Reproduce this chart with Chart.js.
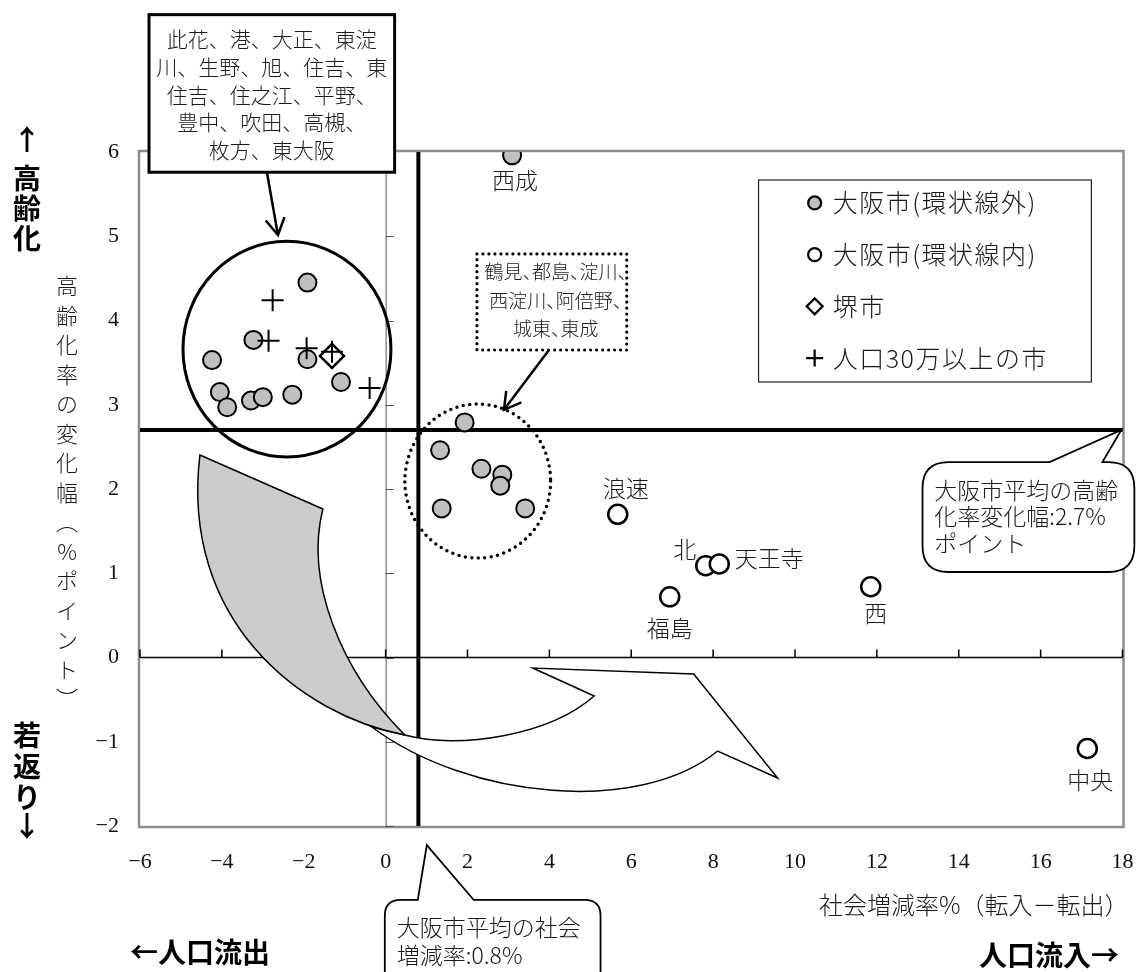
<!DOCTYPE html>
<html>
<head>
<meta charset="utf-8">
<script src="https://cdn.jsdelivr.net/npm/chart.js@4.4.1/dist/chart.umd.min.js"></script>
<style>
  html, body { margin: 0; padding: 0; background: #fff; }
  #wrap { width: 1137px; height: 972px; }
</style>
</head>
<body>
<div id="wrap"><canvas id="chart" width="1137" height="972"></canvas></div>
<script>
const JP = '"Noto Sans CJK JP", sans-serif';
const SERIF = '"Liberation Serif", "Noto Sans CJK JP", serif';
const INK = '#1a1a1a';
const jp = size => '300 ' + size + 'px ' + JP;

// axis ranges
const xMin = -6, xMax = 18, xStep = 2;
const yMin = -2, yMax = 6, yStep = 1;

// Osaka city wards outside the loop line (gray)
const outerX = [-1.91, -3.23, -1.91, -4.24, -1.09, -4.05, -3.87, -3.29, -3.00, -2.28,
                1.93, 1.33, 2.34, 2.85, 2.80, 1.37, 3.41, 3.09];
const outerY = [4.45, 3.77, 3.54, 3.53, 3.27, 3.15, 2.97, 3.05, 3.09, 3.12,
                2.79, 2.46, 2.24, 2.17, 2.04, 1.77, 1.77, 5.96];
const outerNames = ['', '', '', '', '', '', '', '', '', '',
                    '', '', '', '', '', '', '', '西成'];

// Osaka city wards inside the loop line (white)
const innerX = [5.67, 7.82, 8.15, 6.94, 11.85, 17.14];
const innerY = [1.70, 1.09, 1.11, 0.72, 0.84, -1.08];
const innerNames = ['浪速', '北', '天王寺', '福島', '西', '中央'];

// Sakai
const sakaiX = [-1.31];
const sakaiY = [3.58];

// cities with 300k+ population
const citiesX = [-2.76, -2.86, -1.93, -1.31, -0.39];
const citiesY = [4.24, 3.76, 3.67, 3.63, 3.20];

const seriesNames = ['大阪市(環状線外)', '大阪市(環状線内)', '堺市', '人口30万以上の市'];

// Osaka averages
const avgSocial = 0.8;
const avgAging = 2.7;

// where each point label sits relative to its marker (px)
const labelOffset = {
  '西成': [3, 25], '浪速': [8, -26], '北': [-21, -16], '天王寺': [50, -6],
  '福島': [0, 31], '西': [5, 27], '中央': [3, 32]
};

const styles = [
  { pointStyle: 'circle', radius: 9, bg: '#c0c0c0', bw: 2 },
  { pointStyle: 'circle', radius: 9.5, bg: '#ffffff', bw: 2.5 },
  { pointStyle: 'rectRot', radius: 12, bg: '#ffffff', bw: 2.5 },
  { pointStyle: 'cross', radius: 11, bg: '#000000', bw: 2 }
];

function pts(xs, ys) { return xs.map((x, i) => ({ x: x, y: ys[i] })); }
function fmt(v) { return String(v).replace('-', '\u2212'); }

function txt(ctx, s, x, y, font, align, color, spacing) {
  ctx.save();
  ctx.font = font;
  ctx.fillStyle = color || INK;
  ctx.textAlign = align || 'center';
  ctx.textBaseline = 'middle';
  if (spacing && 'letterSpacing' in ctx) ctx.letterSpacing = spacing;
  ctx.fillText(s, x, y);
  ctx.restore();
}

// centred text where the ideographic comma only takes half a cell
function txtProp(ctx, s, cx, y, size) {
  ctx.save();
  ctx.font = jp(size);
  ctx.fillStyle = INK;
  ctx.textAlign = 'left';
  ctx.textBaseline = 'middle';
  const adv = c => c === '、' ? size * 0.5 : ctx.measureText(c).width;
  let w = 0;
  for (const c of s) w += adv(c);
  let x = cx - w / 2;
  for (const c of s) { ctx.fillText(c, x, y); x += adv(c); }
  ctx.restore();
}

function arrowLine(ctx, x0, y0, x1, y1, len, ang) {
  const a = Math.atan2(y0 - y1, x0 - x1);
  ctx.beginPath();
  ctx.moveTo(x0, y0);
  ctx.lineTo(x1, y1);
  ctx.moveTo(x1 + len * Math.cos(a + ang), y1 + len * Math.sin(a + ang));
  ctx.lineTo(x1, y1);
  ctx.lineTo(x1 + len * Math.cos(a - ang), y1 + len * Math.sin(a - ang));
  ctx.stroke();
}

function callout(ctx, x1, y1, x2, y2, r, bA, bB, tx, ty) {
  ctx.beginPath();
  ctx.moveTo(x1 + r, y1);
  ctx.lineTo(bA, y1);
  ctx.lineTo(tx, ty);
  ctx.lineTo(bB, y1);
  ctx.lineTo(x2 - r, y1);
  ctx.quadraticCurveTo(x2, y1, x2, y1 + r);
  ctx.lineTo(x2, y2 - r);
  ctx.quadraticCurveTo(x2, y2, x2 - r, y2);
  ctx.lineTo(x1 + r, y2);
  ctx.quadraticCurveTo(x1, y2, x1, y2 - r);
  ctx.lineTo(x1, y1 + r);
  ctx.quadraticCurveTo(x1, y1, x1 + r, y1);
  ctx.closePath();
  ctx.fillStyle = '#fff';
  ctx.fill();
  ctx.stroke();
}

const decor = {
  id: 'decor',
  beforeDatasetsDraw(chart) {
    const ctx = chart.ctx, a = chart.chartArea;
    const sx = chart.scales.x, sy = chart.scales.y;
    const X = v => sx.getPixelForValue(v), Y = v => sy.getPixelForValue(v);
    ctx.save();
    // plot frame
    ctx.strokeStyle = '#8c8c8c';
    ctx.lineWidth = 2.5;
    ctx.strokeRect(a.left - 1, a.top - 1, a.right - a.left + 2, a.bottom - a.top + 2);

    // axes crossing at zero
    ctx.strokeStyle = '#555';
    ctx.lineWidth = 1;
    ctx.beginPath();
    ctx.moveTo(X(0) + 0.5, a.top);
    ctx.lineTo(X(0) + 0.5, a.bottom);
    for (let v = yMin; v <= yMax; v += yStep) {
      ctx.moveTo(X(0), Math.round(Y(v)) + 0.5);
      ctx.lineTo(X(0) + 8, Math.round(Y(v)) + 0.5);
    }
    ctx.stroke();
    ctx.strokeStyle = '#000';
    ctx.lineWidth = 1.5;
    ctx.beginPath();
    ctx.moveTo(a.left, Y(0));
    ctx.lineTo(a.right, Y(0));
    for (let v = xMin; v <= xMax; v += xStep) {
      ctx.moveTo(X(v), Y(0));
      ctx.lineTo(X(v), Y(0) - 8);
    }
    ctx.stroke();

    // Osaka average lines
    ctx.lineWidth = 4;
    ctx.beginPath();
    ctx.moveTo(X(avgSocial), a.top);
    ctx.lineTo(X(avgSocial), a.bottom);
    ctx.moveTo(a.left, Y(avgAging));
    ctx.lineTo(a.right, Y(avgAging));
    ctx.stroke();
    ctx.restore();
  },
  afterDatasetsDraw(chart) {
    const ctx = chart.ctx, a = chart.chartArea;
    const sx = chart.scales.x, sy = chart.scales.y;
    const X = v => sx.getPixelForValue(v), Y = v => sy.getPixelForValue(v);
    const kx = Math.abs(X(1) - X(0)), ky = Math.abs(Y(1) - Y(0));
    ctx.save();
    ctx.strokeStyle = '#000';
    ctx.lineJoin = 'miter';

    // big ribbon arrow (white body, gray twisted tail)
    ctx.lineWidth = 1.5;
    ctx.beginPath();
    ctx.moveTo(X(-0.337), Y(-0.825));
    ctx.bezierCurveTo(X(2.056), Y(-1.691), X(6.206), Y(-1.869), X(8.110), Y(-1.110));
    ctx.lineTo(X(9.575), Y(-1.430));
    ctx.lineTo(X(7.525), Y(-0.196));
    ctx.lineTo(X(3.594), Y(-0.125));
    ctx.lineTo(X(5.095), Y(-0.457));
    ctx.bezierCurveTo(X(4.009), Y(-0.920), X(1.812), Y(-1.098), X(0.469), Y(-0.920));
    ctx.closePath();
    ctx.fillStyle = '#fff';
    ctx.fill();
    ctx.stroke();
    ctx.beginPath();
    ctx.moveTo(X(-4.536), Y(2.404));
    ctx.lineTo(X(-1.533), Y(1.763));
    ctx.bezierCurveTo(X(-1.973), Y(0.920), X(-1.118), Y(-0.148), X(0.469), Y(-0.920));
    ctx.bezierCurveTo(X(-2.095), Y(-0.682), X(-5.024), Y(0.445), X(-4.536), Y(2.404));
    ctx.closePath();
    ctx.fillStyle = '#cccccc';
    ctx.fill();
    ctx.stroke();

    // group circles
    ctx.lineWidth = 3;
    ctx.beginPath();
    ctx.ellipse(X(-2.41), Y(3.66), 2.54 * kx, 1.28 * ky, 0, 0, Math.PI * 2);
    ctx.stroke();
    ctx.save();
    ctx.setLineDash([0, 6.5]);
    ctx.lineCap = 'round';
    ctx.lineWidth = 3.5;
    ctx.beginPath();
    ctx.ellipse(X(2.25), Y(2.095), 1.78 * kx, 0.914 * ky, 0, 0, Math.PI * 2);
    ctx.stroke();
    ctx.restore();

    // top note box
    ctx.lineWidth = 3;
    ctx.fillStyle = '#fff';
    ctx.fillRect(X(-5.78), Y(7.63), X(0.22) - X(-5.78), Y(5.76) - Y(7.63));
    ctx.strokeRect(X(-5.78), Y(7.63), X(0.22) - X(-5.78), Y(5.76) - Y(7.63));
    const topLines = ['此花、港、大正、東淀', '川、生野、旭、住吉、東', '住吉、住之江、平野、', '豊中、吹田、高槻、', '枚方、東大阪'];
    topLines.forEach((s, i) => txt(ctx, s, X(-2.78), Y(7.34) + i * 27.8, jp(21)));
    ctx.lineWidth = 2.5;
    arrowLine(ctx, X(-2.90), Y(5.76), X(-2.63), Y(5.015), 19, Math.PI / 6);

    // dotted note box
    ctx.save();
    ctx.setLineDash([0, 6]);
    ctx.lineCap = 'round';
    ctx.lineWidth = 3.2;
    ctx.fillStyle = '#fff';
    ctx.fillRect(X(2.23), Y(4.79), X(5.89) - X(2.23), Y(3.65) - Y(4.79));
    ctx.strokeRect(X(2.23), Y(4.79), X(5.89) - X(2.23), Y(3.65) - Y(4.79));
    ctx.restore();
    const midLines = ['鶴見、都島、淀川、', '西淀川、阿倍野、', '城東、東成'];
    midLines.forEach((s, i) => txtProp(ctx, s, X(4.06) + 4, Y(4.576) + i * 28.5, 19));
    ctx.lineWidth = 2.5;
    arrowLine(ctx, X(3.99), Y(3.65), X(2.89), Y(2.94), 19, Math.PI / 6);

    // callouts for the averages
    ctx.lineWidth = 1.8;
    callout(ctx, X(13.115), Y(2.320), X(18.29), Y(1.015), 26, X(16.22), X(17.51), X(17.97), Y(avgAging));
    ['大阪市平均の高齢', '化率変化幅:2.7%', 'ポイント'].forEach((s, i) =>
      txt(ctx, s, X(13.40), Y(1.988) + i * 26.5, jp(23), 'left'));
    callout(ctx, X(-0.02), Y(-2.878), X(5.25), Y(-3.95), 16, X(0.786), X(2.153), X(1.006), Y(-2.226));
    ['大阪市平均の社会', '増減率:0.8%'].forEach((s, i) =>
      txt(ctx, s, X(0.273), Y(-3.199) + i * 28, jp(23), 'left'));

    // point labels
    [[0, outerNames], [1, innerNames]].forEach(([di, names]) => {
      const meta = chart.getDatasetMeta(di);
      meta.data.forEach((el, i) => {
        const n = names[i];
        if (!n) return;
        const o = labelOffset[n];
        txt(ctx, n, el.x + o[0], el.y + o[1], jp(23));
      });
    });

    // legend
    ctx.lineWidth = 1.2;
    ctx.strokeStyle = '#222';
    ctx.fillStyle = '#fff';
    const lx1 = X(9.11), lx2 = X(17.24), ly1 = Y(5.668), ly2 = Y(3.27);
    ctx.fillRect(lx1, ly1, lx2 - lx1, ly2 - ly1);
    ctx.strokeRect(lx1, ly1, lx2 - lx1, ly2 - ly1);
    const legMarks = [6.5, 6.5, 8, 8.5];
    seriesNames.forEach((s, i) => {
      const yy = ly1 + 23 + i * 51.7;
      const st = styles[i];
      ctx.save();
      ctx.fillStyle = st.bg;
      ctx.strokeStyle = '#000';
      ctx.lineWidth = 2.2;
      Chart.helpers.drawPoint(ctx, { pointStyle: st.pointStyle, radius: legMarks[i], rotation: 0, borderWidth: 2.2 }, X(10.48), yy);
      ctx.restore();
      txt(ctx, s, X(10.92), yy, jp(25), 'left', INK, '1.5px');
    });

    // axis titles and direction labels
    const yTitle = ['高', '齢', '化', '率', 'の', '変', '化', '幅', '\uFE35', '%', 'ポ', 'イ', 'ン', 'ト', '\uFE36'];
    yTitle.forEach((c, i) => txt(ctx, c, 67, 286 + i * 29.5, jp(22)));
    txt(ctx, '社会増減率%（転入－転出）', a.right + 6, 905, jp(24), 'right');
    const up = ['↑', '高', '齢', '化'], upY = [139, 178, 208, 238];
    up.forEach((c, i) => txt(ctx, c, 27, upY[i], 'bold 28px ' + JP, 'center', '#000'));
    const dn = ['若', '返', 'り', '↓'], dnY = [735, 766, 797, 826];
    dn.forEach((c, i) => txt(ctx, c, 27, dnY[i], 'bold 28px ' + JP, 'center', '#000'));
    txt(ctx, '←人口流出', 130, 952, 'bold 28px ' + JP, 'left', '#000');
    txt(ctx, '人口流入→', 1119, 955, 'bold 28px ' + JP, 'right', '#000');
    ctx.restore();
  }
};

const datasets = [
  [outerX, outerY, 3], [innerX, innerY, 2], [sakaiX, sakaiY, 1], [citiesX, citiesY, 0]
].map(([xs, ys, ord], i) => ({
  label: seriesNames[i],
  data: pts(xs, ys),
  order: ord,
  pointStyle: styles[i].pointStyle,
  pointRadius: styles[i].radius,
  pointBackgroundColor: styles[i].bg,
  pointBorderColor: '#000',
  pointBorderWidth: styles[i].bw,
  showLine: false
}));

new Chart(document.getElementById('chart'), {
  type: 'scatter',
  data: { datasets: datasets },
  options: {
    responsive: false,
    animation: false,
    events: [],
    layout: { padding: { top: 152, right: 14, left: 0, bottom: 0 } },
    plugins: { legend: { display: false }, tooltip: { enabled: false } },
    scales: {
      x: {
        type: 'linear', min: xMin, max: xMax,
        grid: { display: false, drawTicks: false },
        border: { display: false },
        ticks: { stepSize: xStep, padding: 23, color: '#111', maxRotation: 0, autoSkip: false,
                 font: { family: SERIF, size: 22 }, callback: v => fmt(v) },
        afterFit(s) { s.height = 146; s.paddingRight = 0; s.paddingLeft = 0; }
      },
      y: {
        type: 'linear', min: yMin, max: yMax,
        grid: { display: false, drawTicks: false },
        border: { display: false },
        ticks: { stepSize: yStep, padding: 21, color: '#111',
                 font: { family: SERIF, size: 22 }, callback: v => fmt(v) },
        afterFit(s) { s.width = 140; s.paddingTop = 0; s.paddingBottom = 0; }
      }
    }
  },
  plugins: [decor]
});
</script>
</body>
</html>
